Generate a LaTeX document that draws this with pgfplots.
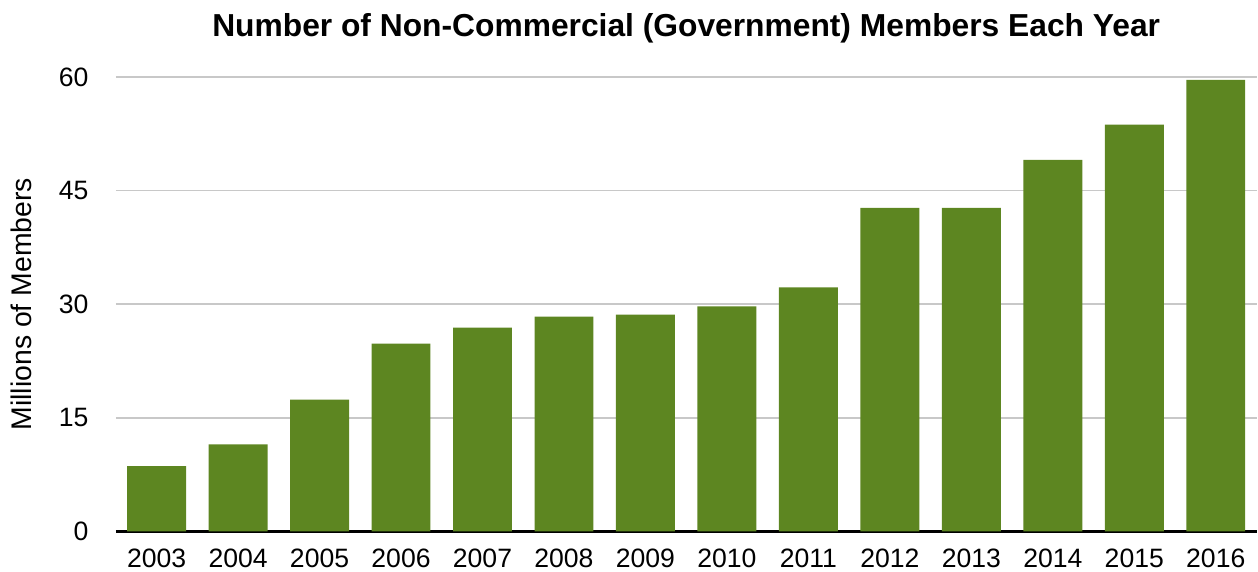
\documentclass[border=0pt]{standalone}
\usepackage{pgfplots}
\pgfplotsset{compat=1.18}
\usepackage{fontspec}
\setmainfont{Liberation Sans}
\definecolor{barg}{HTML}{5D8621}
\definecolor{gridg}{HTML}{C8C8C8}
\begin{document}
\begin{tikzpicture}
\begin{axis}[
  scale only axis,
  width=571pt, height=227.5pt,
  xmin=-0.5, xmax=13.5,
  ymin=0, ymax=60,
  ytick={0,15,30,45,60},
  xtick={0,...,13},
  xticklabels={2003,2004,2005,2006,2007,2008,2009,2010,2011,2012,2013,2014,2015,2016},
  /pgf/number format/assume math mode=true,
  axis x line=bottom, axis y line=left,
  axis line style={-},
  x axis line style={black, line width=1.5pt},
  y axis line style={draw=none},
  major tick length=0pt,
  ymajorgrids,
  grid style={gridg, line width=0.8pt},
  tick label style={font=\fontsize{13.3}{16}\selectfont},
  xticklabel style={anchor=base, yshift=-18pt, inner sep=0pt},
  yticklabel style={anchor=east, inner sep=0pt, xshift=-13.5pt},
  ylabel={Millions of Members},
  every axis y label/.style={at={(axis description cs:-0.0832,0.5)}, rotate=90, anchor=center, inner sep=0pt, font=\fontsize{14.2}{17}\selectfont},
  title={Number of Non-Commercial (Government) Members Each Year},
  title style={at={(axis description cs:0.5,1)}, anchor=base, yshift=14pt, inner sep=0pt, font=\bfseries\fontsize{15.9}{19}\selectfont},
  clip=false,
]
\addplot[ybar, bar width=29.5pt, fill=barg, draw=none] coordinates {
(0,8.6) (1,11.5) (2,17.4) (3,24.8) (4,26.9) (5,28.35) (6,28.6) (7,29.7) (8,32.2) (9,42.7) (10,42.7) (11,49.05) (12,53.7) (13,59.6)
};
\end{axis}
\path ([xshift=-58pt,yshift=-20pt]current axis.south west) rectangle ([yshift=38.5pt]current axis.north east);
\end{tikzpicture}
\end{document}
